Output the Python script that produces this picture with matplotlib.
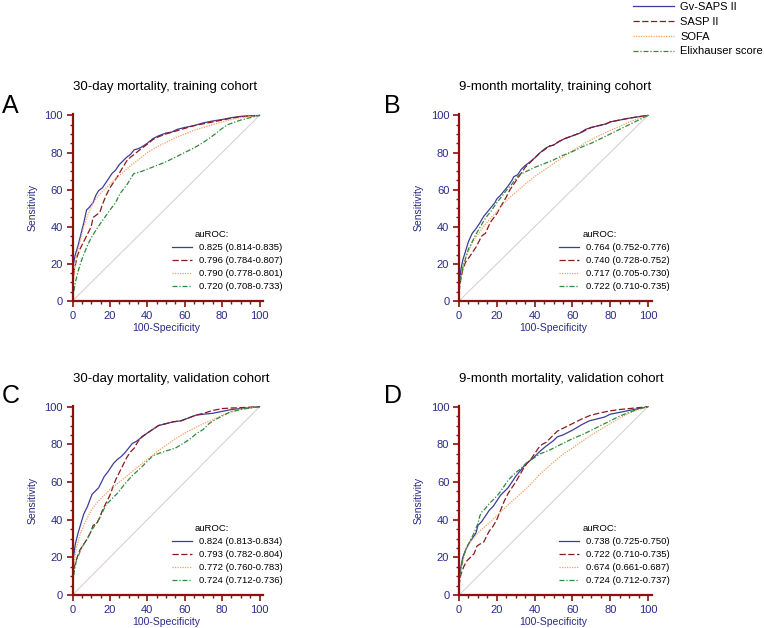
import matplotlib
matplotlib.use("Agg")
import matplotlib.pyplot as plt
import numpy as np
from matplotlib.ticker import MultipleLocator

plt.rcParams['font.family'] = ['Liberation Sans', 'DejaVu Sans']

# model names (top legend)
models = ["Gv-SAPS II", "SASP II", "SOFA", "Elixhauser score"]

# ROC points: (100-Specificity, Sensitivity)
# A: 30-day mortality, training cohort
a_gv = [(0,0),(0,12),(0.5,20),(1.5,25),(3,30),(4.5,36),(6,42),(7.5,49),(9,50.5),(11,53),(12.5,57),(14,59.5),(16,61),
        (18,64),(20,67),(21,68.6),(23,70.5),(25,73.5),(27,75.5),(29,77.5),(31,79),(33,81.5),(35,82),(37,83),(40,85),
        (43,87.5),(46,89),(50,90.5),(53,91),(56,92.5),(60,93.5),(65,94.5),(70,96),(75,97),(80,97.8),(85,98.8),
        (90,99.5),(95,99.8),(100,100)]
a_saps = [(0,0),(0,10),(1,17),(2.5,24),(4,28),(6,32),(8,36),(10,40),(11,45),(13,46.5),(14.7,48),(16,52),(18,57),
          (20,61),(22,64),(24,67),(26,70.5),(29,75.5),(31,77.5),(33,79),(36,81.5),(40,84.5),(43,87),(46,88.5),(50,90),
          (55,91.5),(60,93),(65,94.5),(70,95.5),(75,96.5),(80,97.5),(85,98.5),(90,99.3),(100,100)]
a_sofa = [(0,0),(0,6),(1,16),(2,24),(4,32),(6,40),(8,46),(11,53),(14,57),(17,60),(20,63),(25,67.5),(30,72),(35,76),
          (40,80),(45,83),(50,85.5),(55,88),(60,90),(65,92),(70,93.5),(75,95),(80,96.5),(85,97.8),(90,98.8),(100,100)]
a_elix = [(0,0),(0.5,4),(1.5,10),(3,16),(4.5,21),(6,25),(8,30),(10,34),(13,39),(16.5,44),(20,49),(23,53),(25.5,58),
          (29,62.5),(32.7,68.6),(36,69.5),(40,71),(45,73),(50,75),(55,77.5),(60,80),(65,82.5),(70,85.5),(75,89),
          (80,93),(83,95),(87,96.5),(90,97.5),(95,98.8),(100,100)]
a_auc = ["0.825 (0.814-0.835)", "0.796 (0.784-0.807)", "0.790 (0.778-0.801)", "0.720 (0.708-0.733)"]

# B: 9-month mortality, training cohort
b_gv = [(0,0),(0,8),(1,17),(2,22),(3.5,27),(5,32),(7,36.5),(9,39),(11,42),(13,45.5),(15,48),(17,50.5),(19,53),
        (20,55),(22,57),(24,59.5),(26,62),(28,65),(29,67),(31,68),(33,71),(35,73),(37,74.5),(40,77),(43,80),
        (46,82.5),(48,83.5),(50,84),(53,86),(56,87.5),(60,89),(64,90.5),(67,92.5),(70,93.5),(74,94.5),(78,95.5),
        (80,96.5),(85,97.5),(90,98.5),(95,99.3),(100,100)]
b_saps = [(0,0),(0,5),(1,12),(2,17),(3.5,21),(5,23),(7,26),(9,29),(10.5,32),(12,35),(14,36.5),(15.5,40),(17,43),
          (18.5,45),(20,47),(21.5,50),(23,52.5),(25,56),(27,60),(29,63),(31,66),(33,69),(35,72),(37,74),(40,77),
          (43,80),(46,82),(48,83.5),(50,84),(53,86),(56,87.5),(60,89),(64,90.5),(67,92),(70,93.5),(74,94.5),
          (78,95.5),(80,96.5),(85,97.5),(90,98.5),(95,99.3),(100,100)]
b_sofa = [(0,0),(0,6),(1,13),(2.5,20),(4,25),(6,29),(8,33),(10,36),(13,40),(16,44),(20,48),(25,54),(30,58.5),
          (35,63),(40,67),(45,70.5),(50,74),(55,77.5),(60,81),(65,84),(70,87),(75,89.5),(80,92),(85,94),(90,96.5),
          (95,98.3),(100,100)]
b_elix = [(0,0),(0,7),(1,13),(2,18),(3.5,23),(5,28),(7,32),(9,36),(11,39.5),(13,43),(15,46),(17,48.5),(20,53),
          (22,55.5),(25,59.5),(28,63),(30,66),(32,68),(35,69.5),(40,72),(45,74),(50,76),(55,78.5),(60,80.5),
          (65,83),(70,85),(75,87.5),(80,90),(85,92.5),(90,95),(95,97.5),(100,100)]
b_auc = ["0.764 (0.752-0.776)", "0.740 (0.728-0.752)", "0.717 (0.705-0.730)", "0.722 (0.710-0.735)"]

# C: 30-day mortality, validation cohort
c_gv = [(0,0),(0,12),(0.5,20),(1.5,27),(3,33),(4.5,38),(6,43),(8,47),(9.5,51),(10.5,53.5),(12,55),(14,57),(15.5,60),
        (17,63),(19,65.5),(20,67),(22,70),(24,72),(26,73.5),(28,75.5),(30,78),(32,80.5),(34,81.5),(36,83),
        (38,84.5),(40,86),(43,88),(46,90),(50,91),(54,92),(58,92.5),(62,94),(66,95.5),(70,96),(75,96.5),
        (80,97.5),(85,98.5),(90,99),(95,99.5),(100,100)]
c_saps = [(0,0),(0,8),(1,15),(2.5,20),(4,24),(6,27),(8,30),(10,34),(11,37),(13,38),(14.5,41),(16,45),(18,49),
          (20,53),(21.5,57),(23,61),(25,65),(27,69),(29,73),(31,76),(33,78),(35,81.5),(37,84),(40,86),(43,88),
          (46,90),(50,91),(54,92),(58,92.5),(62,94),(66,95.5),(70,96.5),(75,98),(80,99),(85,99.3),(90,99.5),(100,100)]
c_sofa = [(0,0),(0,8),(1,18),(2,25),(4,32),(6,37),(8,41),(10,45),(13,49),(16,52),(20,56),(25,60),(30,64),(35,68),
          (40,72),(45,76),(50,79.5),(55,83),(60,86),(65,88.5),(70,91),(75,93),(80,95.5),(85,97.5),(90,98.8),(100,100)]
c_elix = [(0,0),(0,5),(1,13),(2,18),(4,23),(6,27),(8,30),(10,34),(12,37),(14,40),(16,44),(18,48),(20,50),(24,54),
          (28,59),(32,63.5),(36,67),(40,71),(43,74),(47,75.5),(50,76.5),(55,78),(60,81),(63,83),(66,85.5),(70,88),
          (73,91),(76,93),(80,95),(84,97),(90,98.5),(95,99.3),(100,100)]
c_auc = ["0.824 (0.813-0.834)", "0.793 (0.782-0.804)", "0.772 (0.760-0.783)", "0.724 (0.712-0.736)"]

# D: 9-month mortality, validation cohort
d_gv = [(0,0),(0,8),(1,15),(2,20),(3.5,24),(5,27),(7,30),(9,33),(10,37),(12,39),(14,42),(16,45),(18,47),(20,50),
        (22,53),(24,55),(26,57),(28,60),(30,63),(32,65.5),(34,68),(36,70),(40,73.5),(43,76.5),(46,79),(50,82),
        (52,84),(55,85),(60,87.5),(65,90.5),(69,92.5),(73,93.5),(77,94.5),(80,96),(85,97),(90,98),(95,99),(100,100)]
d_saps = [(0,0),(0,5),(1,11),(2.5,15),(4,18),(6,20),(8,22),(9.5,26),(11,27),(13,28),(14.5,31),(16,34),(18,36.5),
          (20,40),(22,45),(24,50),(26,54),(28,57),(30,60),(32,63.5),(34,67),(36,70),(38,72),(40,75),(42,78),(44,80),
          (46,81),(48,83),(50,85),(52,87),(55,88.5),(60,91),(65,93.5),(69,95.2),(73,96.3),(77,97.2),(80,97.8),
          (85,98.5),(90,99),(95,99.5),(100,100)]
d_sofa = [(0,0),(0,6),(1,13),(2.5,20),(4,25),(6,28.5),(8.5,31),(10,33),(15,37.5),(20,42),(25,47),(30,51.5),(35,56),
          (40,61),(43,64.4),(50,70.5),(56,75.5),(60,78),(65,81.5),(70,85),(75,88),(80,91),(85,94),(90,96.5),
          (95,98.5),(100,100)]
d_elix = [(0,0),(0,7),(1,14),(2.5,21),(4,25),(6,29),(8,33),(10,38),(11,42),(12,44),(14,46),(16,48.5),(18,50.5),
          (20,52.5),(22,55),(24,58),(26,61),(28,63),(30,65),(32,66.5),(34,68.5),(36,70.5),(40,73),(43,75),(47,76.5),
          (50,78),(55,80.5),(60,83),(66,85.5),(70,87.5),(75,90),(80,92.5),(85,95),(90,97),(95,98.8),(100,100)]
d_auc = ["0.738 (0.725-0.750)", "0.722 (0.710-0.735)", "0.674 (0.661-0.687)", "0.724 (0.712-0.737)"]

panels = [
    ("A", "30-day mortality, training cohort", [a_gv, a_saps, a_sofa, a_elix], a_auc),
    ("B", "9-month mortality, training cohort", [b_gv, b_saps, b_sofa, b_elix], b_auc),
    ("C", "30-day mortality, validation cohort", [c_gv, c_saps, c_sofa, c_elix], c_auc),
    ("D", "9-month mortality, validation cohort", [d_gv, d_saps, d_sofa, d_elix], d_auc),
]

colors = ["#3c3c9c", "#8b1a1a", "#f4a060", "#2e8b3a"]
styles = ["-", (0, (5, 2)), (0, (1, 1)), (0, (4, 1.5, 1, 1.5))]
spine_col = "#8b1010"
txt_col = "#2a2a8a"

# axes rectangles in figure fraction
rects = [
    (0.0949, 0.5207, 0.2497, 0.2970),
    (0.6008, 0.5207, 0.2523, 0.2970),
    (0.0949, 0.0525, 0.2497, 0.3014),
    (0.6008, 0.0525, 0.2523, 0.3014),
]
letter_pos = [(0.002, 0.820), (0.503, 0.820), (0.002, 0.359), (0.503, 0.359)]

fig = plt.figure(figsize=(7.64, 6.28), dpi=100)

top_handles = None
for (letter, title, series, aucs), rect, lp in zip(panels, rects, letter_pos):
    ax = fig.add_axes(rect)
    hpx = rect[3] * 628
    ax.plot([0, 100], [0, 100], color="#d9caca", lw=0.7, zorder=1)
    handles = []
    for pts, c, ls in zip(series, colors, styles):
        arr = np.array(pts)
        h, = ax.plot(arr[:, 0], arr[:, 1], color=c, ls=ls, lw=0.9, zorder=2)
        handles.append(h)
    if top_handles is None:
        top_handles = handles
    ax.set_xlim(0, 102)
    ax.set_ylim(0, 100.5)
    for s in ["top", "right"]:
        ax.spines[s].set_visible(False)
    for s in ["left", "bottom"]:
        ax.spines[s].set_color(spine_col)
        ax.spines[s].set_linewidth(1.6)
    ax.set_xticks([0, 20, 40, 60, 80, 100])
    ax.set_yticks([0, 20, 40, 60, 80, 100])
    ax.xaxis.set_minor_locator(MultipleLocator(5))
    ax.yaxis.set_minor_locator(MultipleLocator(5))
    ax.tick_params(which="major", length=4, width=1.2, color=spine_col, labelcolor=txt_col,
                   labelsize=8, pad=3)
    ax.tick_params(which="minor", length=2.5, width=1.0, color=spine_col)
    ax.set_xlabel("100-Specificity", color=txt_col, fontsize=7.5)
    ax.xaxis.set_label_coords(50 / 102, -22 / hpx)
    ax.set_ylabel("Sensitivity", color=txt_col, fontsize=7.5, labelpad=5)
    ax.text(0, 1.0 + 24 / hpx, title, transform=ax.transAxes, fontsize=9.5,
            ha="left", va="baseline")
    fig.text(lp[0], lp[1], letter, fontsize=18, ha="left", va="baseline")
    ax.legend(handles, aucs, loc="lower left", bbox_to_anchor=(0.52, 10 / hpx),
              frameon=False, fontsize=6.8, handlelength=2.1, handletextpad=0.75,
              labelspacing=0.42, borderpad=0, borderaxespad=0)
    ax.text(0.64, 67 / hpx, "auROC:", transform=ax.transAxes, fontsize=6.8, ha="left", va="center")

fig.legend(top_handles, models, loc="upper right", bbox_to_anchor=(1.009, 1.009),
           frameon=False, fontsize=8, handlelength=3.7, handletextpad=0.6,
           labelspacing=0.43, borderpad=0.2)

fig.savefig("out.png", dpi=100)
